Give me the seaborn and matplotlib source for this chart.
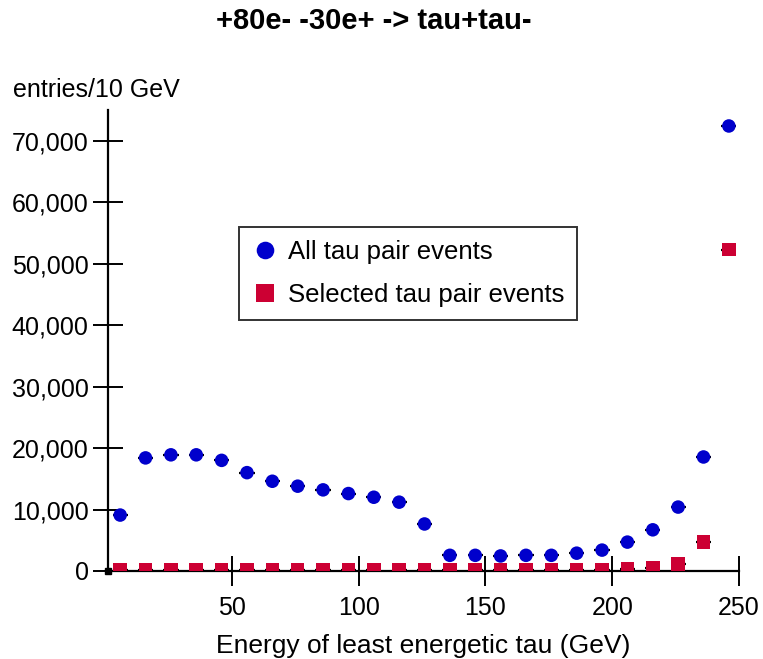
import matplotlib
matplotlib.use("Agg")
import matplotlib.pyplot as plt
import matplotlib.ticker as mticker
import seaborn as sns
import pandas as pd
import numpy as np

# ---- data ----
energy = [6, 16, 26, 36, 46, 56, 66, 76, 86, 96, 106, 116, 126,
          136, 146, 156, 166, 176, 186, 196, 206, 216, 226, 236, 246]
all_events = [9100, 18400, 18900, 18900, 18000, 16000, 14600, 13800, 13200,
              12600, 12000, 11200, 7650, 2550, 2550, 2450, 2550, 2550, 2900,
              3400, 4700, 6700, 10400, 18550, 72400]
selected_events = [200, 200, 200, 200, 200, 200, 200, 200, 200, 200, 200,
                   200, 200, 200, 200, 200, 200, 200, 200, 150, 350, 500,
                   1100, 4700, 52300]
series_names = ["All tau pair events", "Selected tau pair events"]
x_ticks = [50, 100, 150, 200, 250]
y_ticks = [0, 10000, 20000, 30000, 40000, 50000, 60000, 70000]

df = pd.DataFrame({
    "energy": energy * 2,
    "entries": all_events + selected_events,
    "series": [series_names[0]] * len(energy) + [series_names[1]] * len(energy),
})

sns.set_theme(style="white")
plt.rcParams["font.family"] = ["Liberation Sans", "DejaVu Sans"]
plt.rcParams["text.color"] = "black"
plt.rcParams["axes.labelcolor"] = "black"

fig = plt.figure(figsize=(7.63, 6.59), dpi=100)
ax = fig.add_axes([108 / 763, 1 - 571 / 659, (739 - 108) / 763, (571 - 110) / 659])

# horizontal bin-width error bars (black) behind markers
ax.errorbar(energy, all_events, xerr=3, fmt="none", ecolor="black", elinewidth=1.6, zorder=2)
ax.errorbar(energy, selected_events, xerr=3, fmt="none", ecolor="black", elinewidth=1.6, zorder=2)

palette = {series_names[0]: "#0000CC", series_names[1]: "#CC0033"}
markers = {series_names[0]: "o", series_names[1]: "s"}
sns.scatterplot(data=df, x="energy", y="entries", hue="series", style="series",
                palette=palette, markers=markers, s=95, linewidth=0, ax=ax, zorder=3)

ax.set_xlim(1.2, 250)
ax.set_ylim(0, 75000)
ax.set_xticks(x_ticks)
ax.set_yticks(y_ticks)
ax.yaxis.set_major_formatter(mticker.FuncFormatter(lambda v, p: f"{int(v):,}"))
ax.tick_params(axis="both", which="major", bottom=True, left=True,
               direction="inout", length=22, width=1.4, colors="black",
               labelcolor="black", labelsize=18, pad=3)
ax.tick_params(axis="x", pad=7)
for side in ["top", "right"]:
    ax.spines[side].set_visible(False)
for side in ["left", "bottom"]:
    ax.spines[side].set_color("black")
    ax.spines[side].set_linewidth(1.6)

ax.set_ylabel("")
ax.set_xlabel("Energy of least energetic tau (GeV)", fontsize=19, labelpad=10, color="black")

# small origin mark
ax.plot([0], [0], marker="s", color="black", markersize=4, transform=ax.transAxes,
        clip_on=False, zorder=5)

leg = ax.legend(loc="upper left", bbox_to_anchor=(0.2076, 0.746), borderaxespad=0,
                fontsize=18.5, frameon=True, fancybox=False, handletextpad=0.4,
                borderpad=0.5, labelspacing=0.75, handlelength=1.0, markerscale=1.3)
leg.get_frame().set_edgecolor("black")
leg.get_frame().set_linewidth(1.4)
for t in leg.get_texts():
    t.set_color("black")

fig.text(374 / 763, 1 - 21 / 659, "+80e- -30e+ -> tau+tau-", ha="center", va="center",
         fontsize=21, fontweight="bold", color="black")
fig.text(13 / 763, 1 - 90 / 659, "entries/10 GeV", ha="left", va="center", fontsize=18,
         color="black")

fig.savefig("out.png", dpi=100, facecolor="white")
